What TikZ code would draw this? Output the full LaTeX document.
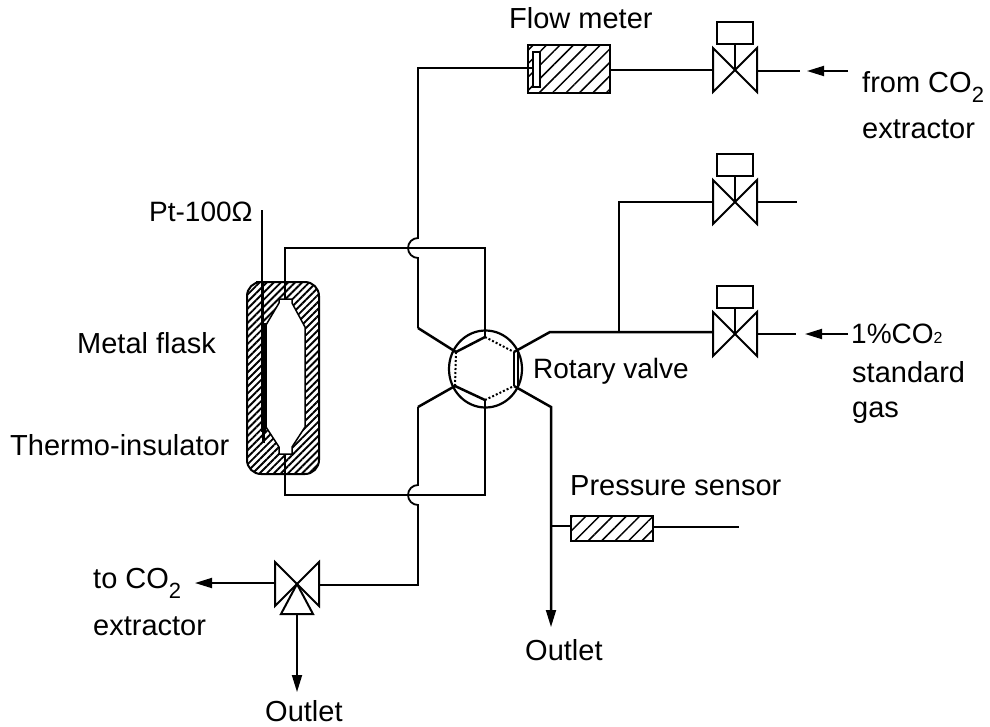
\documentclass[tikz,border=0pt]{standalone}
\usepackage{fontspec}
\setmainfont{Liberation Sans}
\usetikzlibrary{patterns.meta,arrows.meta}
\tikzset{
  pipe/.style={line width=1.8pt},
  thick pipe/.style={line width=2.5pt,line join=miter},
  arrowpipe/.style={pipe,-{Triangle[length=17pt,width=10pt]}},
  lab/.style={inner sep=0pt,font=\fontsize{29}{34}\selectfont,anchor=base west},
  smalllab/.style={inner sep=0pt,font=\fontsize{28}{33}\selectfont,anchor=base west},
  hatchfill/.style={pattern={Lines[angle=45,distance=9.5pt,line width=1.5pt]}},
  flaskhatch/.style={pattern={Lines[angle=45,distance=5pt,line width=1.9pt]}},
  valvebody/.style={line width=2pt,fill=white},
}
\newcommand{\valveat}[2]{%
  \draw[valvebody] (#1-22,#2-22) -- (#1+22,#2+22) -- (#1+22,#2-22) -- (#1-22,#2+22) -- cycle;
}
\newcommand{\actuator}[2]{%
  \draw[pipe] (#1,#2) -- (#1,#2-26);
  \draw[pipe,fill=white] (#1-18,#2-48) rectangle (#1+18,#2-26);
}
\newcommand{\lowsub}[1]{\raisebox{-10pt}{\fontsize{22}{22}\selectfont #1}}
\begin{document}
\begin{tikzpicture}[x=1pt,y=-1pt]
\useasboundingbox (0,0) rectangle (990,726);
% flask
\path[flaskhatch,rounded corners=14pt] (247,282) -- (319,282) -- (319,474) -- (247,474) -- cycle;
\draw[line width=2pt,rounded corners=14pt] (270,282) -- (319,282) -- (319,474) -- (247,474) -- (247,282) -- cycle;
\draw[line width=1.5pt,fill=white] (279,299) -- (292,299) -- (292,303) -- (305,327) -- (305,427) -- (292,447) -- (292,454) -- (279,454) -- (279,447) -- (266,427) -- (266,325) -- (279,303) -- cycle;
\coordinate (ntop) at (285,299);
\coordinate (nbot) at (285,454);
% thermometer
\coordinate (pt) at (262,210);
\draw[line width=1.6pt] (pt) -- (262,300);
\draw[line width=2.8pt] (262.5,282) -- (262.5,325);
\draw[line width=5.2pt] (263.5,323) -- (263.5,432);
\draw[line width=3pt] (263,430) -- (263,443);
% rotary valve
\coordinate (c) at (485.5,369);
\draw[line width=2.2pt] (c) ellipse (36.5pt and 38.5pt);
\coordinate (h1) at (485,337);
\coordinate (h2) at (514,352);
\coordinate (h3) at (514,386);
\coordinate (h4) at (485,400);
\coordinate (h5) at (455,386);
\coordinate (h6) at (456,352);
\draw[thick pipe] (h1) -- (h6) (h5) -- (h4);
\draw[line width=2pt,dash pattern=on 2pt off 2pt] (h1) -- (h2) (h6) -- (h5) (h4) -- (h3);
\draw[line width=1.8pt] (h2) -- (h3) (518,352) -- (518,386);
% pipes
\draw[pipe] (h1) -- (485,248) -- (285,248) -- (ntop);
\draw[pipe] (nbot) -- (285,495) -- (485,495) -- (h4);
\draw[thick pipe] (h6) -- (418,328);
\draw[pipe] (418,328) -- (418,258) arc (-90:-270:10pt) -- (418,68) -- (528,68);
\draw[thick pipe] (h5) -- (418,407);
\draw[pipe] (418,407) -- (418,485) arc (90:270:10pt) -- (418,585) -- (319,585);
% right top
\draw[thick pipe] (h2) -- (550,332) -- (713,332);
\draw[pipe] (619,332) -- (619,202) -- (713,202);
\draw[pipe] (610,70) -- (713,70);
\draw[pipe] (758,71) -- (800,71);
\draw[pipe] (758,202) -- (797,202);
\draw[pipe] (758,334) -- (796,334);
% flow meter
\path[hatchfill] (528,45) rectangle (610,93);
\draw[line width=2pt] (528,45) rectangle (610,93);
\draw[line width=1.6pt,fill=white] (533,52) rectangle (540,87);
\draw[pipe] (528,68) -- (533,68);
% valves
\actuator{735}{70}\valveat{735}{70}
\actuator{735}{202}\valveat{735}{202}
\actuator{735}{334}\valveat{735}{334}
\valveat{297}{584}
\draw[line width=2pt,fill=white] (297,584) -- (313,614) -- (281,614) -- cycle;
% arrows
\coordinate (a1s) at (848,71); \coordinate (a1e) at (807,71);
\draw[arrowpipe] (a1s) -- (a1e);
\coordinate (a2s) at (848,334); \coordinate (a2e) at (805,334);
\draw[arrowpipe] (a2s) -- (a2e);
\draw[thick pipe] (h3) -- (551,407) -- (551,612);
\draw[arrowpipe] (551,600) -- (551,627);
\draw[arrowpipe] (275,583) -- (195,583);
\draw[arrowpipe] (297,614) -- (297,692);
% pressure sensor
\path[hatchfill] (571,516) rectangle (653,541);
\draw[line width=2pt] (571,516) rectangle (653,541);
\draw[pipe] (551,526) -- (571,526);
\draw[pipe] (653,527) -- (739,527);
% labels
\node[lab] (fm) at (509,28) {Flow meter};
\node[lab] (l1) at (862,92) {from CO\lowsub{2}};
\node[lab] (l2) at (862,138) {extractor};
\node[smalllab] (l3) at (149,221) {Pt-100Ω};
\node[lab] (l4) at (77,353) {Metal flask};
\node[lab] (l5) at (10,455) {Thermo-insulator};
\node[smalllab] (l6) at (533,378) {Rotary valve};
\node[smalllab] (l7) at (851,343) {1\%CO{\fontsize{16}{18}\selectfont 2}};
\node[lab] (l8) at (852,382) {standard};
\node[lab] (l9) at (852,417) {gas};
\node[lab] (l10) at (570,495) {Pressure sensor};
\node[lab] (l11) at (525,660) {Outlet};
\node[lab] (l12) at (93,588) {to CO\lowsub{2}};
\node[lab] (l13) at (93,635) {extractor};
\node[lab] (l14) at (265,721) {Outlet};
\end{tikzpicture}
\end{document}
